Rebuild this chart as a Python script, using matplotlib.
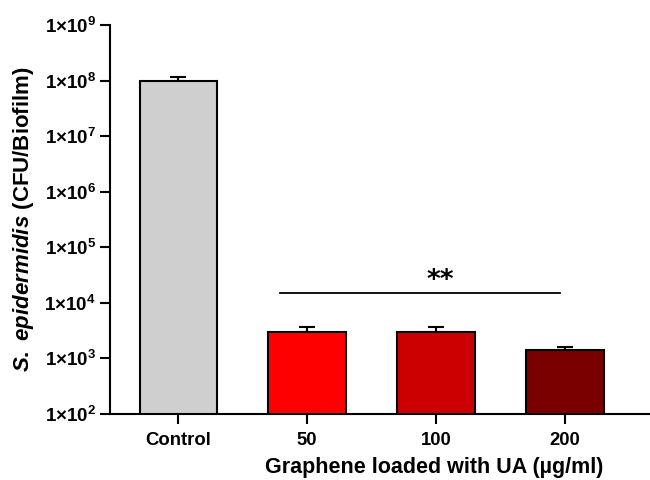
import matplotlib
matplotlib.use("Agg")
import math
import matplotlib.pyplot as plt
from matplotlib.ticker import FixedLocator, FuncFormatter, NullLocator

plt.rcParams['font.family'] = ['Liberation Sans', 'DejaVu Sans']
plt.rcParams['font.weight'] = 'bold'
plt.rcParams['mathtext.fontset'] = 'custom'
plt.rcParams['mathtext.rm'] = 'Liberation Sans:bold'
plt.rcParams['mathtext.it'] = 'Liberation Sans:italic:bold'
plt.rcParams['mathtext.bf'] = 'Liberation Sans:bold'

categories = ['Control', '50', '100', '200']
values = [1.0e8, 3.0e3, 3.0e3, 1.42e3]
errors_up = [1.7e7, 0.7e3, 0.7e3, 0.2e3]
colors = ['#D0CFD0', '#FF0000', '#CC0000', '#7A0000']
ytick_exponents = [2, 3, 4, 5, 6, 7, 8, 9]
sig_label = '**'
sig_level = 1.5e4
sig_from, sig_to = 1, 3
xlabel = 'Graphene loaded with UA (µg/ml)'
ylabel = r'$\it{S.\ epidermidis}$ (CFU/Biofilm)'

fig = plt.figure(figsize=(6.5, 4.8), dpi=100)
ax = fig.add_axes([0.169, 0.1375, 0.831, 0.8105])

x = list(range(len(categories)))
ax.bar(x, values, width=0.6, color=colors, edgecolor='black', linewidth=1.5, zorder=2)
ax.errorbar(x, values, yerr=[[0] * len(values), errors_up], fmt='none',
            ecolor='black', elinewidth=1.5, capsize=6, capthick=1.5, zorder=1)

ax.set_yscale('log')
ax.set_ylim(1e2, 1e9)
ax.set_xlim(-0.53, 3.66)
ax.yaxis.set_major_locator(FixedLocator([10.0 ** e for e in ytick_exponents]))
ax.yaxis.set_minor_locator(NullLocator())
ax.yaxis.set_major_formatter(FuncFormatter(
    lambda v, p: r'$\mathrm{1{\times}10^{%d}}$' % round(math.log10(v))))
ax.set_xticks(x)
ax.set_xticklabels(categories)

for s in ['top', 'right']:
    ax.spines[s].set_visible(False)
for s in ['left', 'bottom']:
    ax.spines[s].set_linewidth(1.5)
ax.tick_params(axis='both', direction='out', length=7, width=1.5)
ax.tick_params(axis='y', labelsize=13.5, pad=3)
ax.tick_params(axis='x', pad=6, labelsize=13.3)

ax.plot([sig_from - 0.21, sig_to - 0.04], [sig_level, sig_level], color='black', lw=1.3)
ax.text(2.03, sig_level * 0.95, sig_label, ha='center', va='bottom',
        fontsize=19, fontweight='bold', family='DejaVu Sans')

ax.set_xlabel(xlabel, fontsize=15.5, fontweight='bold', labelpad=6, x=0.6)
ax.set_ylabel(ylabel, fontsize=16, fontweight='bold', labelpad=6)

fig.savefig('out.png', dpi=100)
